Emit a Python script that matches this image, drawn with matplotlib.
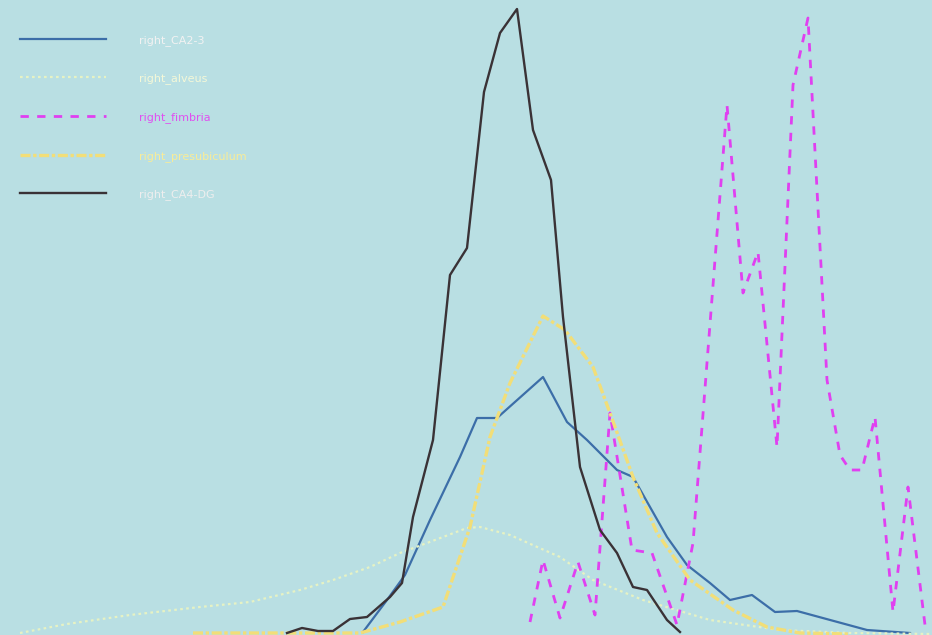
import matplotlib
matplotlib.use('Agg')
import matplotlib.pyplot as plt

# intensity bins / histogram heights
ca23_x = [363, 387, 405, 430, 460, 477, 497, 543, 567, 587, 607, 617, 633, 650, 667, 687, 710, 730, 752, 775, 797, 867, 910]
ca23_y = [3, 35, 60, 115, 178, 217, 217, 258, 213, 195, 175, 165, 158, 128, 98, 70, 52, 35, 40, 23, 24, 5, 2]

alveus_x = [20, 67, 130, 200, 250, 300, 333, 370, 400, 435, 467, 480, 510, 560, 593, 643, 710, 780, 850, 932]
alveus_y = [2, 11, 20, 28, 33, 45, 55, 68, 82, 95, 107, 108, 100, 78, 55, 35, 15, 5, 2, 1]

fimbria_x = [530, 543, 560, 578, 595, 610, 632, 652, 677, 693, 727, 743, 758, 777, 793, 808, 827, 840, 850, 862, 875, 893, 908, 925]
fimbria_y = [13, 75, 17, 73, 20, 222, 85, 82, 10, 92, 530, 342, 383, 188, 550, 617, 255, 180, 165, 165, 218, 23, 148, 10]

presub_x = [193, 283, 360, 400, 443, 470, 490, 510, 543, 565, 593, 610, 633, 657, 690, 733, 767, 800, 850]
presub_y = [2, 2, 2, 13, 28, 108, 198, 252, 319, 305, 268, 222, 158, 102, 55, 25, 8, 2, 1]

ca4dg_x = [287, 302, 318, 333, 350, 367, 390, 402, 413, 433, 450, 467, 484, 500, 517, 533, 551, 563, 580, 600, 617, 633, 647, 667, 680]
ca4dg_y = [2, 7, 4, 4, 16, 18, 38, 52, 118, 195, 360, 387, 543, 602, 626, 505, 455, 318, 168, 105, 82, 48, 45, 15, 3]

labels = ['right_CA2-3', 'right_alveus', 'right_fimbria', 'right_presubiculum', 'right_CA4-DG']
text_colors = ['#f2f2f2', '#f4f8d8', '#e050f0', '#f8ec98', '#eeeeee']

bg = '#b9dfe3'
fig = plt.figure(figsize=(9.32, 6.35), dpi=100, facecolor=bg)
ax = fig.add_axes([0, 0, 1, 1])
ax.set_facecolor(bg)

ax.plot(ca23_x, ca23_y, color='#3c6ea8', lw=1.6, label=labels[0])
ax.plot(alveus_x, alveus_y, color='#e6f2c4', lw=1.6, ls=(0, (1.2, 1.5)), label=labels[1])
ax.plot(fimbria_x, fimbria_y, color='#e040f0', lw=2.0, ls=(0, (3, 3)), label=labels[2])
ax.plot(presub_x, presub_y, color='#f2de78', lw=2.4, ls=(0, (3, 0.8, 1, 0.8)), label=labels[3])
ax.plot(ca4dg_x, ca4dg_y, color='#3a3236', lw=1.7, label=labels[4])

ax.set_xlim(0, 932)
ax.set_ylim(0, 635)
ax.axis('off')

leg = ax.legend(loc='upper left', bbox_to_anchor=(0.0, 0.977), frameon=False,
                fontsize=8, handlelength=7.7, handletextpad=3.0,
                labelspacing=2.5, borderaxespad=1.4)
for t, c in zip(leg.get_texts(), text_colors):
    t.set_color(c)

fig.savefig('out.png', dpi=100, facecolor=bg)
